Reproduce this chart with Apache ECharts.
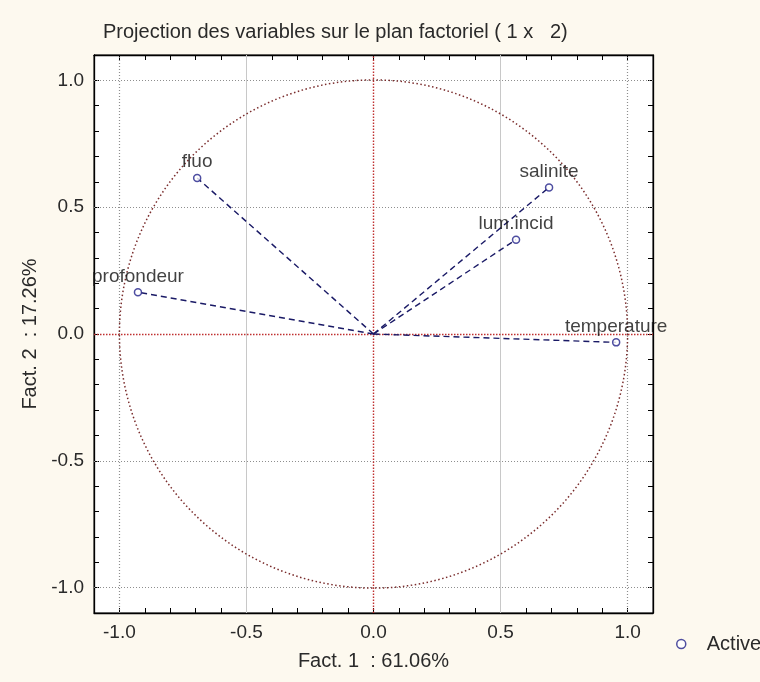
<!DOCTYPE html>
<html>
<head>
<meta charset="utf-8">
<script src="https://cdn.jsdelivr.net/npm/echarts@6/dist/echarts.min.js"></script>
<style>
html,body{margin:0;padding:0;background:#fdf9ef;}
#c{width:760px;height:682px;}
</style>
</head>
<body>
<div id="c"></div>
<script>
// ---- data ----
const varNames = ['fluo', 'profondeur', 'salinite', 'lum.incid', 'temperature'];
const fact1 = [-0.694, -0.927, 0.691, 0.561, 0.955];
const fact2 = [0.615, 0.165, 0.578, 0.372, -0.033];
const majorTicks = [-1.0, -0.5, 0.0, 0.5, 1.0];
const gridSolidX = [-0.5, 0.5];
const gridDottedX = [-1.0, 1.0];
const gridDottedY = [-1.0, -0.5, 0.5, 1.0];
const circleRadius = [1.0];
const titleText = 'Projection des variables sur le plan factoriel ( 1 x   2)';
const xName = 'Fact. 1  : 61.06%';
const yName = 'Fact. 2  : 17.26%';
const seriesName = 'Active';

const FONT = 'Liberation Sans, Arial, sans-serif';
const chart = echarts.init(document.getElementById('c'), null, {renderer: 'canvas'});

const fmt = v => {
  const k = Math.round(v * 10);
  return majorTicks.some(t => Math.round(t * 10) === k) ? (k / 10).toFixed(1) : '';
};

const baseAxis = {
  type: 'value', min: -1.1, max: 1.1, interval: 0.1,
  axisLine: {show: true, onZero: false, lineStyle: {color: '#000', width: 1.3}},
  axisTick: {show: true, inside: true, length: 5, lineStyle: {color: '#000'}},
  splitLine: {show: false}
};

const vectorSeries = varNames.map((n, i) => ({
  type: 'line', name: 'v_' + n,
  data: [[0, 0], [fact1[i], fact2[i]]],
  showSymbol: false, symbol: 'none', silent: true,
  lineStyle: {color: '#1a1a66', width: 1.4, type: [6, 4]},
  z: 4
}));

const gridMark = [];
gridSolidX.forEach(v => gridMark.push({xAxis: v, lineStyle: {color: '#c8c8c8', type: 'solid', width: 1}}));
gridDottedX.forEach(v => gridMark.push({xAxis: v, lineStyle: {color: '#8e8e8e', type: [1, 2], width: 1.2}}));
gridDottedY.forEach(v => gridMark.push({yAxis: v, lineStyle: {color: '#8e8e8e', type: [1, 2], width: 1.2}}));
gridMark.push({xAxis: 0, lineStyle: {color: '#c03030', type: [1.5, 1.5], width: 1.4}});
gridMark.push({yAxis: 0, lineStyle: {color: '#c03030', type: [1.5, 1.5], width: 1.4}});

const option = {
  backgroundColor: '#fdf9ef',
  animation: false,
  title: {
    text: titleText, left: 98, top: 17,
    textStyle: {fontFamily: FONT, fontSize: 20, fontWeight: 'normal', color: '#2a2a2a'}
  },
  legend: {
    data: [seriesName],
    icon: 'circle',
    left: 671, top: 629, itemWidth: 9, itemHeight: 9, itemGap: 0,
    itemStyle: {color: '#ffffff', borderColor: '#22228a', borderWidth: 1.5},
    textStyle: {fontFamily: FONT, fontSize: 20, color: '#2a2a2a', padding: [0, 0, 0, 16]}
  },
  grid: {left: 94, right: 107, top: 55, bottom: 69, show: true, backgroundColor: '#fff', borderColor: '#000', borderWidth: 1},
  xAxis: [
    Object.assign({}, baseAxis, {
      position: 'bottom', name: xName, nameLocation: 'middle', nameGap: 38,
      nameTextStyle: {fontFamily: FONT, fontSize: 20, color: '#2a2a2a'},
      axisLabel: {formatter: fmt, margin: 10, fontFamily: FONT, fontSize: 19, color: '#2a2a2a', showMinLabel: true, showMaxLabel: true}
    }),
    Object.assign({}, baseAxis, {position: 'top', axisLabel: {show: false}})
  ],
  yAxis: [
    Object.assign({}, baseAxis, {
      position: 'left', name: yName, nameLocation: 'middle', nameGap: 52, nameRotate: 90,
      nameTextStyle: {fontFamily: FONT, fontSize: 20, color: '#2a2a2a'},
      axisLabel: {formatter: fmt, margin: 10, fontFamily: FONT, fontSize: 19, color: '#2a2a2a'}
    }),
    Object.assign({}, baseAxis, {position: 'right', axisLabel: {show: false}})
  ],
  series: [
    {
      type: 'custom', name: 'circle', silent: true, z: 2,
      data: circleRadius.map(r => [0, 0, r]),
      renderItem: (params, api) => {
        const c = api.coord([api.value(0), api.value(1)]);
        const r = api.size([api.value(2), 0])[0];
        return {type: 'circle', shape: {cx: c[0], cy: c[1], r: r},
          style: {fill: 'none', stroke: '#7a2c2c', lineWidth: 1.5, lineDash: [1.5, 2.5]}};
      },
      markLine: {silent: true, symbol: 'none', label: {show: false}, animation: false, data: gridMark, z: 1}
    },
    ...vectorSeries,
    {
      type: 'scatter', name: seriesName, z: 5,
      data: varNames.map((n, i) => ({name: n, value: [fact1[i], fact2[i]]})),
      symbol: 'circle', symbolSize: 7,
      itemStyle: {color: '#ffffff', borderColor: '#22228a', borderWidth: 1.5},
      label: {show: true, position: 'top', distance: 2, formatter: p => p.name,
        fontFamily: FONT, fontSize: 19, color: '#111'}
    }
  ]
};
chart.setOption(option);
</script>
</body>
</html>
